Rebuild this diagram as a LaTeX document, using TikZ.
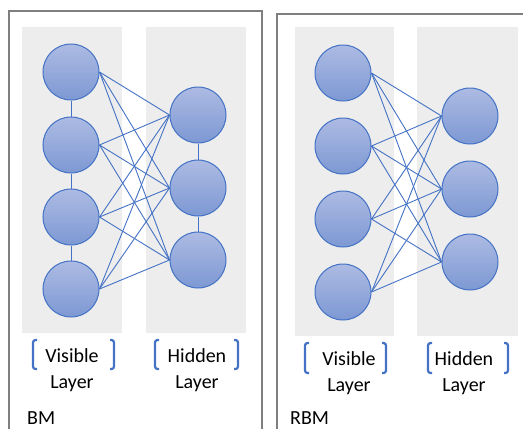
\documentclass[tikz,border=0pt]{standalone}
\usepackage{fontspec}
\setmainfont{Carlito}
\usetikzlibrary{positioning}

\definecolor{unitline}{HTML}{4472C4}
\definecolor{unittop}{HTML}{ADBBE3}
\definecolor{unitbot}{HTML}{7D98D3}
\definecolor{layerbg}{HTML}{EDEDED}
\definecolor{panelline}{HTML}{7F7F7F}

\tikzset{
  unit/.style={circle, draw=unitline, line width=1pt, top color=unittop,
               bottom color=unitbot, minimum size=56pt, inner sep=0pt},
  link/.style={unitline, line width=0.9pt},
  layertext/.style={font=\fontsize{20}{24}\selectfont, anchor=base},
  brack/.style={unitline, line width=2.2pt, rounded corners=2.5pt},
  panel/.style={panelline, line width=2pt},
}

\begin{document}
\begin{tikzpicture}[x=1pt, y=-1pt]
  \useasboundingbox (0,0) rectangle (523,429);
  \clip (0,0) rectangle (523,429);

  % Panel frames
  \draw[panel] (9,11) rectangle (262,440);
  \draw[panel] (277,14) rectangle (540,440);

  % Layer backgrounds
  \fill[layerbg] (22,27) rectangle (122,333);
  \fill[layerbg] (146,27) rectangle (246,333);
  \fill[layerbg] (295,27) rectangle (394,336);
  \fill[layerbg] (417,27) rectangle (518,336);

  % BM units
  \node[unit] (bv1) at (71,72) {};
  \node[unit] (bv2) at (71,145) {};
  \node[unit] (bv3) at (71,217) {};
  \node[unit] (bv4) at (71,289) {};
  \node[unit] (bh1) at (198,115) {};
  \node[unit] (bh2) at (198,188) {};
  \node[unit] (bh3) at (198,260) {};

  % BM connections, within and between layers
  \draw[link] (bv1) -- (bv2) (bv2) -- (bv3) (bv3) -- (bv4);
  \draw[link] (bh1) -- (bh2) (bh2) -- (bh3);
  \foreach \i in {1,...,4}
    \foreach \j in {1,2,3}
      \draw[link] (bv\i.east) -- (bh\j.west);

  % RBM units
  \node[unit] (rv1) at (343,73) {};
  \node[unit] (rv2) at (343,146) {};
  \node[unit] (rv3) at (343,219) {};
  \node[unit] (rv4) at (343,292) {};
  \node[unit] (rh1) at (470,116) {};
  \node[unit] (rh2) at (470,189) {};
  \node[unit] (rh3) at (470,262) {};

  % RBM connections, between layers only
  \foreach \i in {1,...,4}
    \foreach \j in {1,2,3}
      \draw[link] (rv\i.east) -- (rh\j.west);

  % Layer labels
  \node[layertext] (bvis) at (72,362) {Visible};
  \node[layertext] (bvlay) at (72,388) {Layer};
  \node[layertext] (bhid) at (197,362) {Hidden};
  \node[layertext] (bhlay) at (197,388) {Layer};
  \node[layertext] (rvis) at (349,365) {Visible};
  \node[layertext] (rvlay) at (349,391) {Layer};
  \node[layertext] (rhid) at (464,365) {Hidden};
  \node[layertext] (rhlay) at (464,391) {Layer};

  % Brackets round the label heads
  \draw[brack] (37,340) -- (33,340) -- (33,369) -- (37,369);
  \draw[brack] (110,340) -- (114,340) -- (114,369) -- (110,369);
  \draw[brack] (159,340) -- (155,340) -- (155,369) -- (159,369);
  \draw[brack] (234,340) -- (238,340) -- (238,369) -- (234,369);
  \draw[brack] (309,343) -- (305,343) -- (305,373) -- (309,373);
  \draw[brack] (382,343) -- (386,343) -- (386,373) -- (382,373);
  \draw[brack] (432,343) -- (428,343) -- (428,373) -- (432,373);
  \draw[brack] (504,343) -- (508,343) -- (508,373) -- (504,373);

  % Panel titles
  \node[layertext, anchor=base west, inner sep=0pt] (bmtitle) at (27,424) {BM};
  \node[layertext, anchor=base west, inner sep=0pt] (rbmtitle) at (290,424) {RBM};
\end{tikzpicture}
\end{document}
